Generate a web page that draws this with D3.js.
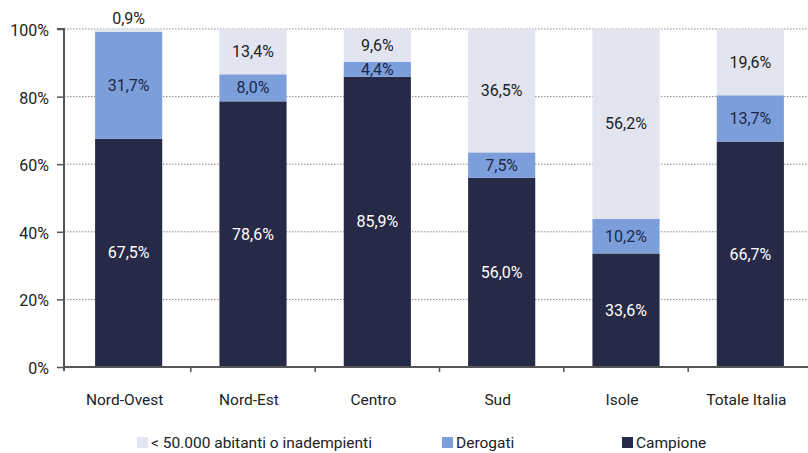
<!DOCTYPE html>
<html>
<head>
<meta charset="utf-8">
<script src="https://cdn.jsdelivr.net/npm/d3@7"></script>
<style>
  body { margin: 0; background: #fff; }
  svg text { font-family: "Roboto", "Liberation Sans", sans-serif; }
</style>
</head>
<body>
<div id="chart"></div>
<script>
var categories = ["Nord-Ovest", "Nord-Est", "Centro", "Sud", "Isole", "Totale Italia"];
var campione = [67.5, 78.6, 85.9, 56.0, 33.6, 66.7];
var derogati = [31.7, 8.0, 4.4, 7.5, 10.2, 13.7];
var piccoli = [0.9, 13.4, 9.6, 36.5, 56.2, 19.6];
var yTicks = [0, 20, 40, 60, 80, 100];
var seriesNames = ["< 50.000 abitanti o inadempienti", "Derogati", "Campione"];

var width = 808, height = 453;
var margin = {top: 29, right: -7, bottom: 86, left: 64};

var svg = d3.select("#chart").append("svg")
    .attr("width", width)
    .attr("height", height);

var x = d3.scaleBand()
    .domain(categories)
    .range([margin.left, width - margin.right])
    .paddingInner(0.46)
    .paddingOuter(0.25);

var y = d3.scaleLinear()
    .domain([0, 100])
    .range([height - margin.bottom, margin.top]);

var colors = {campione: "#272a47", derogati: "#7c9edb", piccoli: "#e2e5f0"};

// build stacks
var rows = categories.map(function(c, i) {
  return {cat: c, campione: campione[i], derogati: derogati[i], piccoli: piccoli[i]};
});
var stack = d3.stack().keys(["campione", "derogati", "piccoli"]);
var layers = stack(rows);

// gridlines
svg.append("g")
  .selectAll("line")
  .data(yTicks.filter(function(d) { return d > 0; }))
  .enter().append("line")
  .attr("x1", margin.left)
  .attr("x2", width)
  .attr("y1", function(d) { return y(d); })
  .attr("y2", function(d) { return y(d); })
  .attr("stroke", "#8a8a8a")
  .attr("stroke-width", 1)
  .attr("stroke-dasharray", "1.5,1.5");

// bars
layers.forEach(function(layer) {
  var key = layer.key;
  svg.append("g")
    .selectAll("rect")
    .data(layer)
    .enter().append("rect")
    .attr("x", function(d) { return x(d.data.cat); })
    .attr("width", x.bandwidth())
    .attr("y", function(d) { return y(Math.min(d[1], 100)); })
    .attr("height", function(d) { return y(d[0]) - y(Math.min(d[1], 100)); })
    .attr("fill", colors[key]);
});

// labels
function fmt(v) { return v.toFixed(1).replace(".", ",") + "%"; }

layers.forEach(function(layer) {
  var key = layer.key;
  svg.append("g")
    .selectAll("text")
    .data(layer)
    .enter().append("text")
    .attr("x", function(d) { return x(d.data.cat) + x.bandwidth() / 2; })
    .attr("y", function(d) {
      var v = d[1] - d[0];
      if (key == "piccoli" && v < 3) return y(100) - 5;
      return y((d[0] + d[1]) / 2) + 5.5;
    })
    .attr("text-anchor", "middle")
    .attr("font-size", 16)
    .attr("fill", key == "campione" ? "#ffffff" : (key == "derogati" ? "#1e2848" : "#222"))
    .text(function(d) { return fmt(d[1] - d[0]); });
});

// y axis
var yAxis = d3.axisLeft(y)
    .tickValues(yTicks)
    .tickSize(7)
    .tickFormat(function(d) { return d + "%"; });

var gy = svg.append("g")
    .attr("transform", "translate(" + margin.left + ",0)")
    .call(yAxis);
gy.select(".domain").attr("stroke", "#555").attr("stroke-width", 2)
  .attr("d", "M-7," + y(100) + "H0V" + (y(0) + 4));
gy.selectAll(".tick line").attr("stroke", "#555").attr("stroke-width", 1.5);
gy.selectAll(".tick text").attr("font-size", 16).attr("fill", "#222").attr("x", -15).attr("dy", "0.4em");

// x axis
var gx = svg.append("g")
    .attr("transform", "translate(0," + y(0) + ")");
gx.append("line")
  .attr("x1", margin.left).attr("x2", width)
  .attr("stroke", "#555").attr("stroke-width", 2);
var bounds = categories.slice(1).map(function(c) {
  return x(c) - x.step() * x.paddingInner() / 2;
});
gx.selectAll(".tk")
  .data(bounds)
  .enter().append("line")
  .attr("class", "tk")
  .attr("x1", function(d) { return d; })
  .attr("x2", function(d) { return d; })
  .attr("y1", 0).attr("y2", 5)
  .attr("stroke", "#555").attr("stroke-width", 1.5);
gx.selectAll("text")
  .data(categories)
  .enter().append("text")
  .attr("x", function(d) { return x(d) + x.bandwidth() / 2 - 4; })
  .attr("y", 38)
  .attr("text-anchor", "middle")
  .attr("font-size", 15.5)
  .attr("fill", "#222")
  .text(function(d) { return d; });

// legend
var legendX = [137, 442, 622];
var legendColors = [colors.piccoli, colors.derogati, colors.campione];
var legend = svg.append("g").attr("transform", "translate(0,448)");
seriesNames.forEach(function(name, i) {
  legend.append("rect")
    .attr("x", legendX[i]).attr("y", -11)
    .attr("width", 11).attr("height", 11)
    .attr("fill", legendColors[i]);
  legend.append("text")
    .attr("x", legendX[i] + 14).attr("y", 0)
    .attr("font-size", 15.5)
    .attr("fill", "#222")
    .text(name);
});
</script>
</body>
</html>
